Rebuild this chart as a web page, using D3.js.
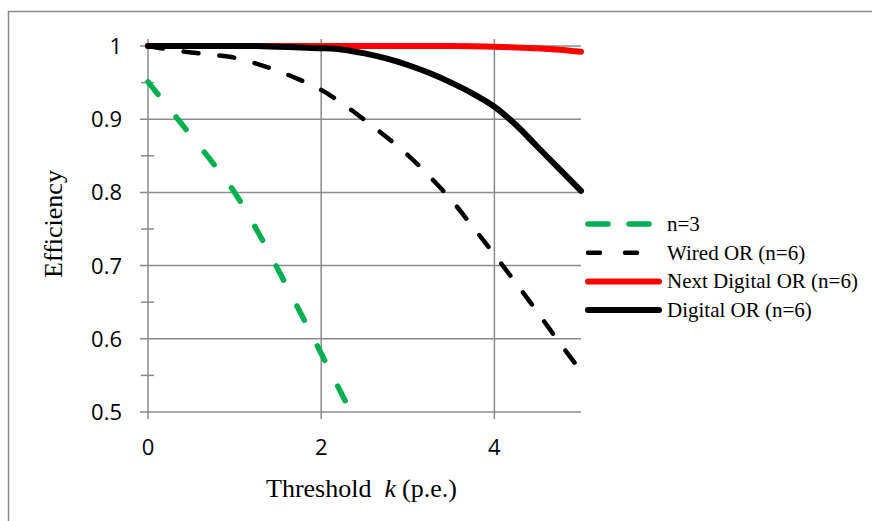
<!DOCTYPE html>
<html lang="en">

<head>
  <meta charset="UTF-8">
  <title>Efficiency vs Threshold</title>
  <script src="https://d3js.org/d3.v7.min.js"></script>
  <style>
    body { margin: 0; background: #fff; }
    .tick-label { font-family: "Open Sans", sans-serif; font-size: 22px; fill: #000; }
    .axis-title { font-family: "Liberation Serif", "Times New Roman", serif; font-size: 26px; fill: #000; }
    .legend-text { font-family: "Liberation Serif", "Times New Roman", serif; font-size: 21px; fill: #000; }
    .grid { stroke: #8a8a8a; stroke-width: 1.5px; }
  </style>
</head>

<body>
  <div id="chart"></div>

  <script>
    // Values
    const kSteps = [0, 0.25, 0.5, 0.75, 1, 1.25, 1.5, 1.75, 2, 2.25, 2.5, 2.75, 3, 3.25, 3.5, 3.75, 4, 4.25, 4.5, 4.75, 5];
    const wiredOr = [1.0, 0.995, 0.991, 0.988, 0.984, 0.976, 0.966, 0.954, 0.940, 0.921, 0.899, 0.876, 0.851, 0.822, 0.790, 0.753, 0.715, 0.676, 0.636, 0.595, 0.556];
    const nextDigitalOr = [1, 1, 1, 1, 1, 1, 1, 1, 1, 1, 1, 1, 1, 1, 1, 0.9995, 0.999, 0.998, 0.997, 0.995, 0.992];
    const digitalOr = [1, 1, 1, 1, 1, 1, 0.999, 0.998, 0.997, 0.995, 0.990, 0.983, 0.974, 0.963, 0.950, 0.935, 0.917, 0.892, 0.862, 0.832, 0.802];
    const kN3 = [0, 0.25, 0.5, 0.75, 1, 1.25, 1.5, 1.75, 2, 2.3];
    const n3 = [0.951, 0.914, 0.877, 0.840, 0.800, 0.750, 0.695, 0.638, 0.580, 0.510];

    const xTicks = [0, 2, 4];
    const yTicks = [0.5, 0.6, 0.7, 0.8, 0.9, 1];
    const yMinorTicks = [0.55, 0.65, 0.75, 0.85, 0.95];

    const W = 872, H = 521;
    const svg = d3.select("#chart")
      .append("svg")
      .attr("width", W)
      .attr("height", H);

    // outer chart border
    svg.append("rect")
      .attr("x", 8.5).attr("y", 11.5)
      .attr("width", 900).attr("height", 600)
      .attr("fill", "none")
      .attr("stroke", "#8a8a8a")
      .attr("stroke-width", 1.5);

    const x = d3.scaleLinear().domain([0, 5]).range([148, 581]);
    const y = d3.scaleLinear().domain([0.5, 1]).range([412, 46]);

    // horizontal gridlines + major ticks
    svg.selectAll(".hgrid")
      .data(yTicks)
      .enter()
      .append("line")
      .attr("class", "grid")
      .attr("x1", x(0) - 8).attr("x2", x(5))
      .attr("y1", d => y(d)).attr("y2", d => y(d));

    // minor ticks (cross)
    svg.selectAll(".minor")
      .data(yMinorTicks)
      .enter()
      .append("line")
      .attr("class", "grid")
      .attr("x1", x(0) - 7).attr("x2", x(0) + 6)
      .attr("y1", d => y(d)).attr("y2", d => y(d));

    // vertical gridlines, y axis and x ticks
    svg.selectAll(".vgrid")
      .data(xTicks)
      .enter()
      .append("line")
      .attr("class", "grid")
      .attr("x1", d => x(d)).attr("x2", d => x(d))
      .attr("y1", y(1) - 7).attr("y2", y(0.5) + 7);

    // tick labels
    svg.selectAll(".ylab")
      .data(yTicks)
      .enter()
      .append("text")
      .attr("class", "tick-label")
      .attr("text-anchor", "end")
      .attr("x", x(0) - 26)
      .attr("y", d => y(d) + 8)
      .text(d => d3.format("")(d));

    svg.selectAll(".xlab")
      .data(xTicks)
      .enter()
      .append("text")
      .attr("class", "tick-label")
      .attr("text-anchor", "middle")
      .attr("x", d => x(d))
      .attr("y", 455)
      .text(d => d);

    // axis titles
    svg.append("text")
      .attr("class", "axis-title")
      .attr("text-anchor", "middle")
      .attr("transform", "translate(62,224) rotate(-90)")
      .text("Efficiency");

    const xt = svg.append("text")
      .attr("class", "axis-title")
      .attr("x", 266)
      .attr("y", 497);
    xt.append("tspan").text("Threshold");
    xt.append("tspan").attr("dx", 13).attr("font-style", "italic").text("k");
    xt.append("tspan").attr("dx", 6).text("(p.e.)");

    // series
    const line = d3.line()
      .x(d => x(d[0]))
      .y(d => y(d[1]))
      .curve(d3.curveCatmullRom.alpha(0.5));

    const series = [
      { name: "n=3", k: kN3, v: n3, color: "#00b050", width: 5.5, dash: "16,29" },
      { name: "Wired OR (n=6)", k: kSteps, v: wiredOr, color: "#000", width: 4.5, dash: "15,21" },
      { name: "Next Digital OR (n=6)", k: kSteps, v: nextDigitalOr, color: "#ff0000", width: 6, dash: null },
      { name: "Digital OR (n=6)", k: kSteps, v: digitalOr, color: "#000", width: 6, dash: null }
    ];

    series.forEach(s => {
      svg.append("path")
        .datum(s.k.map((k, i) => [k, s.v[i]]))
        .attr("fill", "none")
        .attr("stroke", s.color)
        .attr("stroke-width", s.width)
        .attr("stroke-linecap", "round")
        .attr("stroke-dasharray", s.dash)
        .attr("d", line);
    });

    // legend
    const legend = svg.append("g")
      .attr("transform", "translate(588,224)");

    legend.selectAll("line")
      .data(series)
      .enter()
      .append("line")
      .attr("x1", 0).attr("x2", 71)
      .attr("y1", (d, i) => i * 28.7).attr("y2", (d, i) => i * 28.7)
      .attr("stroke", d => d.color)
      .attr("stroke-width", d => d.width)
      .attr("stroke-linecap", "round")
      .attr("stroke-dasharray", (d, i) => i === 0 ? "20,21" : (i === 1 ? "12,25" : null));

    legend.selectAll("text")
      .data(series)
      .enter()
      .append("text")
      .attr("class", "legend-text")
      .attr("x", 79)
      .attr("y", (d, i) => i * 28.7 + 7)
      .text(d => d.name);
  </script>
</body>

</html>
